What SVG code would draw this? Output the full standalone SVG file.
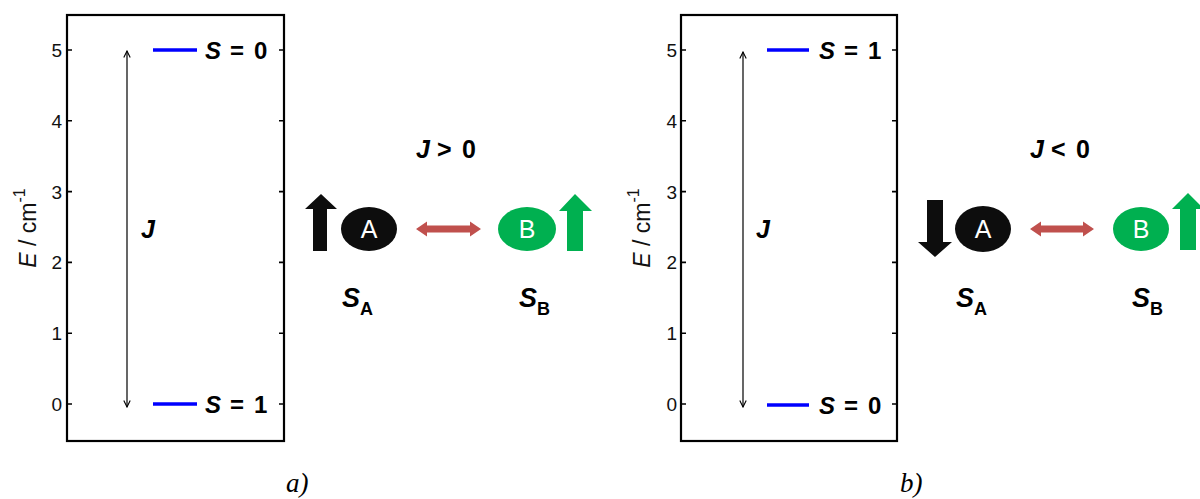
<svg xmlns="http://www.w3.org/2000/svg" width="1200" height="499" viewBox="0 0 1200 499">
<style>
.frame{fill:none;stroke:#000;stroke-width:2.2}
.tick{stroke:#000;stroke-width:1.6}
.tl{font-family:"Liberation Sans",Arial,sans-serif;font-size:19px;fill:#111;text-anchor:end}
.lvl{stroke:#0000ff;stroke-width:3.5}
.st{font-family:"Liberation Sans",Arial,sans-serif;font-size:24px;font-weight:bold;fill:#000}
.it{font-style:italic}
.jarr{stroke:#000;stroke-width:1.2;fill:none}
.big{font-family:"Liberation Sans",Arial,sans-serif;font-size:25px;font-weight:bold;fill:#000}
.sub{font-size:18px;font-style:normal}
.circ{font-family:"Liberation Sans",Arial,sans-serif;font-size:25px;fill:#fff;text-anchor:middle}
.ax{font-family:"Liberation Sans",Arial,sans-serif;font-size:23px;fill:#111}
.cap{font-family:"Liberation Serif","Times New Roman",serif;font-size:27px;font-style:italic;fill:#000}
.red{fill:#c0504d}
.grn{fill:#00b050}
.blk{fill:#0d0d0d}
</style>
<defs>
<marker id="vh" viewBox="0 0 10 10" refX="9" refY="5" markerWidth="8" markerHeight="8" markerUnits="userSpaceOnUse" orient="auto-start-reverse">
<path d="M1,1 L9,5 L1,9" fill="none" stroke="#000" stroke-width="1.4"/>
</marker>
</defs>

<!-- Panel a -->
<g id="plot-a">
<rect class="frame" x="67" y="15" width="217" height="426"/>
<g class="tick">
<path d="M67,50h5M67,120.8h5M67,191.6h5M67,262.4h5M67,333.2h5M67,404h5"/>
<path d="M284,50h-5M284,120.8h-5M284,191.6h-5M284,262.4h-5M284,333.2h-5M284,404h-5"/>
</g>
<g class="tl">
<text x="62" y="57">5</text>
<text x="62" y="127.8">4</text>
<text x="62" y="198.6">3</text>
<text x="62" y="269.4">2</text>
<text x="62" y="340.2">1</text>
<text x="62" y="411">0</text>
</g>
<g transform="translate(36,228) rotate(-90)">
<text class="ax" text-anchor="middle"><tspan font-style="italic">E</tspan> / cm<tspan font-size="16" dy="-11">-1</tspan></text>
</g>
<line class="lvl" x1="153" y1="50" x2="197" y2="50"/>
<line class="lvl" x1="153" y1="404" x2="197" y2="404"/>
<text class="st" y="58.5"><tspan class="it" x="205">S</tspan><tspan x="230">=</tspan><tspan x="254">0</tspan></text>
<text class="st" y="412.5"><tspan class="it" x="205">S</tspan><tspan x="230">=</tspan><tspan x="254">1</tspan></text>
<line class="jarr" x1="127" y1="51" x2="127" y2="407" marker-start="url(#vh)" marker-end="url(#vh)"/>
<text class="big it" x="141" y="238">J</text>
</g>

<g id="spins-a">
<text class="big" y="158"><tspan class="it" x="416">J</tspan><tspan x="437">&gt;</tspan><tspan x="462">0</tspan></text>
<polygon class="blk" points="321,194 337,209 327,209 327,251 313,251 313,209 305,209"/>
<g id="atom-A-a">
<ellipse class="blk" cx="369" cy="229" rx="28" ry="22"/>
<text class="circ" x="369" y="238">A</text>
</g>
<g id="atom-B-a">
<ellipse class="grn" cx="527" cy="229" rx="29" ry="22"/>
<text class="circ" x="527" y="238">B</text>
</g>
<polygon class="grn" points="575,194 592,211 583,211 583,251 567,251 567,211 559,211"/>
<text class="big" y="307"><tspan class="it" x="342" font-size="27">S</tspan><tspan class="sub" dy="8">A</tspan></text>
<text class="big" y="307"><tspan class="it" x="519" font-size="27">S</tspan><tspan class="sub" dy="8">B</tspan></text>
</g>

<!-- Panel b -->
<g id="plot-b">
<rect class="frame" x="681" y="15" width="216" height="426"/>
<g class="tick">
<path d="M681,50h5M681,120.8h5M681,191.6h5M681,262.4h5M681,333.2h5M681,404h5"/>
<path d="M897,50h-5M897,120.8h-5M897,191.6h-5M897,262.4h-5M897,333.2h-5M897,404h-5"/>
</g>
<g class="tl">
<text x="677" y="57">5</text>
<text x="677" y="127.8">4</text>
<text x="677" y="198.6">3</text>
<text x="677" y="269.4">2</text>
<text x="677" y="340.2">1</text>
<text x="677" y="411">0</text>
</g>
<g transform="translate(650,228) rotate(-90)">
<text class="ax" text-anchor="middle"><tspan font-style="italic">E</tspan> / cm<tspan font-size="16" dy="-11">-1</tspan></text>
</g>
<line class="lvl" x1="767" y1="50" x2="809" y2="50"/>
<line class="lvl" x1="767" y1="405" x2="809" y2="405"/>
<text class="st" y="58.5"><tspan class="it" x="819">S</tspan><tspan x="844">=</tspan><tspan x="868">1</tspan></text>
<text class="st" y="413.5"><tspan class="it" x="819">S</tspan><tspan x="844">=</tspan><tspan x="868">0</tspan></text>
<line class="jarr" x1="743" y1="52" x2="743" y2="407" marker-start="url(#vh)" marker-end="url(#vh)"/>
<text class="big it" x="756" y="238">J</text>
</g>

<g id="spins-b">
<text class="big" y="158"><tspan class="it" x="1030">J</tspan><tspan x="1051">&lt;</tspan><tspan x="1076">0</tspan></text>
<polygon class="blk" points="935,257 952,242 943,242 943,200 927,200 927,242 918,242"/>
<g id="atom-A-b">
<ellipse class="blk" cx="983" cy="229" rx="28" ry="23"/>
<text class="circ" x="983" y="238">A</text>
</g>
<g id="atom-B-b">
<ellipse class="grn" cx="1141" cy="229" rx="28" ry="22"/>
<text class="circ" x="1141" y="238">B</text>
</g>
<polygon class="grn" points="1188,193 1204,209 1196,209 1196,250 1180,250 1180,209 1172,209"/>
<text class="big" y="307"><tspan class="it" x="956" font-size="27">S</tspan><tspan class="sub" dy="8">A</tspan></text>
<text class="big" y="307"><tspan class="it" x="1132" font-size="27">S</tspan><tspan class="sub" dy="8">B</tspan></text>
</g>

<g id="connectors">
<polygon class="red" points="416,229 427,221.5 427,225.5 470,225.5 470,221.5 481,229 470,236.5 470,232.5 427,232.5 427,236.5"/>
<polygon class="red" points="1030,229 1041,221.5 1041,225.5 1083,225.5 1083,221.5 1094,229 1083,236.5 1083,232.5 1041,232.5 1041,236.5"/>
</g>

<text class="cap" x="286" y="492">a)</text>
<text class="cap" x="900" y="492">b)</text>
</svg>
